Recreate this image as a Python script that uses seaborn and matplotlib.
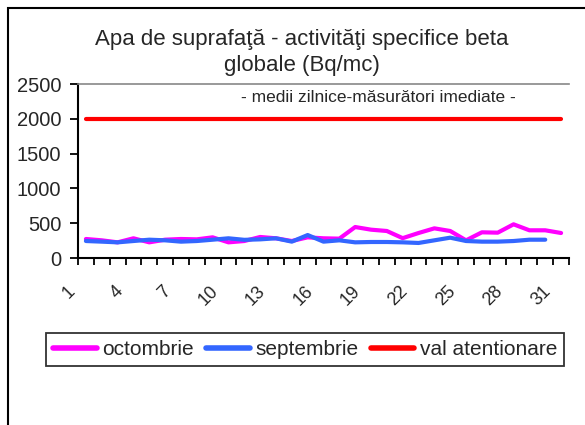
import numpy as np
import pandas as pd
import matplotlib
matplotlib.use("Agg")
import matplotlib.pyplot as plt
import matplotlib.patches as mpatches
from matplotlib.transforms import ScaledTranslation
import seaborn as sns

# daily averages, Bq/mc
days_oct = list(range(1, 32))
octombrie = [273, 254, 225, 283, 225, 263, 273, 268, 297, 225, 244,
             302, 283, 244, 297, 283, 278, 445, 407, 388, 285, 359,
             426, 388, 254, 369, 364, 484, 398, 398, 359]
days_sep = list(range(1, 31))
septembrie = [244, 235, 225, 244, 263, 254, 235, 244, 263, 283, 261,
              268, 283, 235, 330, 235, 254, 225, 230, 230, 225, 216,
              254, 292, 244, 235, 235, 244, 263, 263]
val_atentionare = [2000] * 31

series_names = ["octombrie", "septembrie", "val atentionare"]
series_colors = ["#FF00FF", "#3366FF", "#FF0000"]
y_ticks = [0, 500, 1000, 1500, 2000, 2500]
x_labels = list(range(1, 32, 3))

df = pd.concat([
    pd.DataFrame({"zi": days_oct, "val": octombrie, "serie": series_names[0]}),
    pd.DataFrame({"zi": days_sep, "val": septembrie, "serie": series_names[1]}),
    pd.DataFrame({"zi": days_oct, "val": val_atentionare, "serie": series_names[2]}),
])

sns.set_style("ticks")
plt.rcParams["font.family"] = ["Liberation Sans", "DejaVu Sans"]

fig = plt.figure(figsize=(5.85, 4.25), dpi=100)
ax = fig.add_axes([78 / 585, 1 - 258 / 425, (569 - 78) / 585, (258 - 84) / 425])

sns.lineplot(data=df, x="zi", y="val", hue="serie", hue_order=series_names,
             palette=series_colors, linewidth=3, ax=ax, legend=True)

ax.set_xlim(0.5, 31.5)
ax.set_ylim(0, 2500)
ax.set_yticks(y_ticks)
ax.set_xlabel("")
ax.set_ylabel("")

# category boundaries get the tick marks, labels sit under the categories
ax.set_xticks(np.arange(0.5, 32, 1), minor=True)
ax.set_xticks(x_labels)
ax.set_xticklabels([str(d) for d in x_labels], rotation=45, ha="right", va="top")
ax.tick_params(axis="x", which="major", length=0, pad=18, labelsize=13)
ax.tick_params(axis="x", which="minor", length=5, width=1.3, color="black")
ax.tick_params(axis="y", length=6, width=1.3, pad=6, labelsize=14.5, color="black")
offset = ScaledTranslation(-7 / 100, 0, fig.dpi_scale_trans)
for lbl in ax.get_xticklabels():
    lbl.set_transform(lbl.get_transform() + offset)

for side in ["left", "bottom"]:
    ax.spines[side].set_color("black")
    ax.spines[side].set_linewidth(1.5)
ax.spines["top"].set_color("#888888")
ax.spines["top"].set_linewidth(1.2)
ax.spines["right"].set_visible(False)

leg = ax.legend(loc="center", bbox_to_anchor=(0.5214, 1 - 349.5 / 425),
                bbox_transform=fig.transFigure, ncol=3, fontsize=15,
                handlelength=2.1, handletextpad=0.25, columnspacing=0.6,
                fancybox=False, edgecolor="black", borderpad=0.35,
                borderaxespad=0)
leg.get_frame().set_linewidth(1.3)
for line in leg.get_lines():
    line.set_linewidth(4)

fig.text(302 / 585, 1 - 40 / 425, "Apa de suprafaţă - activităţi specifice beta",
         ha="center", va="center", fontsize=16)
fig.text(302 / 585, 1 - 65 / 425, "globale (Bq/mc)",
         ha="center", va="center", fontsize=16)
fig.text(378 / 585, 1 - 97 / 425, "- medii zilnice-măsurători imediate -",
         ha="center", va="center", fontsize=12.5)

# chart area border (runs off the right and bottom edge)
fig.patches.append(mpatches.Rectangle((8 / 585, -0.1), 1.2, 1 - 8 / 425 + 0.1,
                                      transform=fig.transFigure, fill=False,
                                      edgecolor="black", linewidth=1.5))

fig.savefig("out.png", dpi=100)
